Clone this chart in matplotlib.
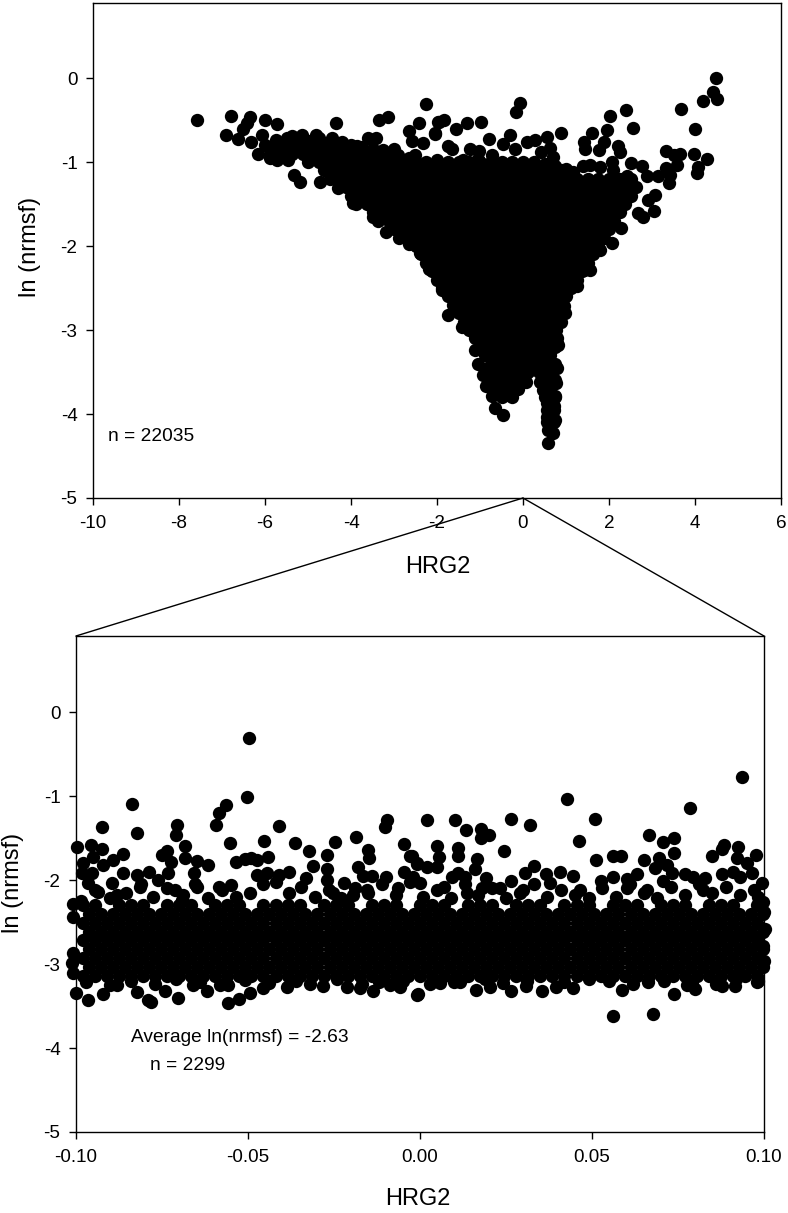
import matplotlib
matplotlib.use("Agg")
import matplotlib.pyplot as plt
from matplotlib.patches import ConnectionPatch

plt.rcParams['font.family'] = ['Liberation Sans', 'DejaVu Sans']
plt.rcParams['axes.unicode_minus'] = False

W, H = 788, 1213

# ---- upper panel: separately readable points ----
upper_edge_x = [-7.57,-6.79,-6.91,-6.62,-6.52,-6.43,-6.35,-5.99,-5.71,-6.33,-6.16,-6.06,-5.88,-5.73,-5.47,-5.38,-5.14,-4.82,-5.33,-5.19,-4.72,-4.30,-3.95,-3.48,-3.19,-2.64,-2.40,-2.19,-4.36,-3.36,-3.15,-3.60,-3.42,-2.25,-2.42,-2.64,-2.59,-2.32,-2.05,-1.97,-4.45,-4.22,-3.87,-3.25,-3.00,-2.51,-2.01,
4.49,4.43,4.50,4.19,3.68,4.01,3.98,4.29,4.08,4.04,3.32,3.64,3.50,3.59,3.32,3.43,3.39,3.15,2.88,2.76,2.51,3.07,2.91,3.05,2.80,2.68,2.29,2.08,1.79,1.56,1.25,2.40,2.02,2.56,1.95,1.61,1.42,1.44,1.89,1.77,2.22,2.26,2.08,0.88,0.55,0.63,0.43,0.28,0.10,0.69,-0.06,-0.17,-0.30,-0.47,-0.19,-0.78,-0.98,-1.30,-1.56,-1.84,-1.95,-2.05,-1.74,-1.64,-1.23,-1.02,-1.04,-1.39,-0.73,1.16,1.56,2.41,
-1.74,-1.89,-1.43,-1.12,-1.04,-0.94,-0.85,-0.65,-0.73,-0.47,-0.34,0.07,-0.15,0.59,0.69,0.57,0.55,0.55,0.47,0.40,0.74,0.74,0.77,0.78,0.82,0.98,0.79,1.42,1.02,0.95,0.76,0.80,0.75,0.55,0.72,0.55,0.72,0.55,0.72,0.55,0.72,
-5.75,-5.5,-5.25,-5,-4.75,-4.5,-4.25,-3.75,-3.5,-2.9,-2.65,0.5,0.75,1.0,1.4,1.8,2.1]
upper_edge_y = [-0.50,-0.45,-0.68,-0.73,-0.61,-0.54,-0.47,-0.50,-0.55,-0.76,-0.91,-0.68,-0.95,-0.98,-0.98,-0.69,-0.68,-0.68,-1.15,-1.24,-1.24,-1.31,-1.49,-1.66,-1.83,-1.98,-2.08,-2.27,-0.53,-0.50,-0.47,-0.71,-0.72,-0.31,-0.53,-0.63,-0.75,-0.77,-0.66,-0.52,-0.71,-0.76,-0.81,-0.86,-0.85,-0.92,-0.98,
0.00,-0.17,-0.25,-0.27,-0.37,-0.61,-0.91,-0.97,-1.06,-1.13,-0.87,-0.90,-0.92,-1.03,-1.07,-1.15,-1.25,-1.17,-1.17,-1.05,-1.01,-1.39,-1.45,-1.58,-1.66,-1.61,-1.78,-1.96,-2.05,-2.29,-2.48,-0.38,-0.45,-0.60,-0.62,-0.65,-0.76,-0.85,-0.76,-0.86,-0.81,-0.88,-1.00,-0.66,-0.70,-0.83,-0.88,-0.74,-0.76,-0.94,-0.30,-0.41,-0.68,-0.78,-0.85,-0.73,-0.52,-0.54,-0.61,-0.50,-0.52,-0.67,-0.81,-0.85,-0.85,-0.87,-0.96,-0.98,-0.92,-1.12,-1.04,-1.17,
-2.82,-2.52,-2.97,-3.24,-3.40,-3.54,-3.67,-3.93,-3.79,-4.01,-3.77,-3.62,-3.67,-4.34,-4.23,-4.19,-4.03,-3.87,-3.71,-3.62,-4.07,-3.79,-3.63,-3.45,-3.18,-2.80,-3.10,-2.29,-2.52,-2.72,-3.00,-3.15,-3.44,-3.95,-3.95,-4.10,-4.10,-3.80,-3.90,-3.60,-3.60,
-0.74,-0.72,-0.74,-0.75,-0.72,-0.76,-0.78,-0.82,-0.84,-0.92,-0.95,-1.02,-1.05,-1.08,-1.05,-1.06,-1.10]

# ---- upper panel: estimated points of the solid cloud, row by row ----
upper_core_y = [-0.80,-0.90,-1.00,-1.10,-1.20,-1.30,-1.40,-1.50,-1.60,-1.70,-1.80,-1.90,-2.00,-2.10,-2.20,-2.30,-2.40,-2.50,-2.60,-2.70,-2.80,-2.90,-3.00,-3.10,-3.20,-3.30,-3.40,-3.50,-3.60,-3.70,-3.80]
upper_core_x = [
[-6,-5.75,-5.5,-5.25,-5,-4.75,-4.5,-4.25,-4],
[-5.875,-5.625,-5.375,-5.125,-4.875,-4.625,-4.375,-4.125,-3.875,-3.625,-3.375,-3.125],
[-5,-4.75,-4.5,-4.25,-4,-3.75,-3.5,-3.25,-3,-2.75,-2.5,-2.25,-2,-1.75,-1.5,-1.25,-1,-.75,-.5,-.25,0,.25],
[-4.625,-4.375,-4.125,-3.875,-3.625,-3.375,-3.125,-2.875,-2.625,-2.375,-2.125,-1.875,-1.625,-1.375,-1.125,-.875,-.625,-.375,-.125,.125,.375,.625,.875],
[-4.5,-4.25,-4,-3.75,-3.5,-3.25,-3,-2.75,-2.5,-2.25,-2,-1.75,-1.5,-1.25,-1,-.75,-.5,-.25,0,.25,.5,.75,1,1.25,1.5,1.75,2,2.25,2.5],
[-4.125,-3.875,-3.625,-3.375,-3.125,-2.875,-2.625,-2.375,-2.125,-1.875,-1.625,-1.375,-1.125,-.875,-.625,-.375,-.125,.125,.375,.625,.875,1.125,1.375,1.625,1.875,2.125,2.375,2.625],
[-4,-3.75,-3.5,-3.25,-3,-2.75,-2.5,-2.25,-2,-1.75,-1.5,-1.25,-1,-.75,-.5,-.25,0,.25,.5,.75,1,1.25,1.5,1.75,2,2.25,2.5],
[-3.875,-3.625,-3.375,-3.125,-2.875,-2.625,-2.375,-2.125,-1.875,-1.625,-1.375,-1.125,-.875,-.625,-.375,-.125,.125,.375,.625,.875,1.125,1.375,1.625,1.875,2.125,2.375],
[-3.5,-3.25,-3,-2.75,-2.5,-2.25,-2,-1.75,-1.5,-1.25,-1,-.75,-.5,-.25,0,.25,.5,.75,1,1.25,1.5,1.75,2,2.25],
[-3.375,-3.125,-2.875,-2.625,-2.375,-2.125,-1.875,-1.625,-1.375,-1.125,-.875,-.625,-.375,-.125,.125,.375,.625,.875,1.125,1.375,1.625,1.875,2.125],
[-3,-2.75,-2.5,-2.25,-2,-1.75,-1.5,-1.25,-1,-.75,-.5,-.25,0,.25,.5,.75,1,1.25,1.5,1.75,2],
[-2.875,-2.625,-2.375,-2.125,-1.875,-1.625,-1.375,-1.125,-.875,-.625,-.375,-.125,.125,.375,.625,.875,1.125,1.375,1.625,1.875],
[-2.5,-2.25,-2,-1.75,-1.5,-1.25,-1,-.75,-.5,-.25,0,.25,.5,.75,1,1.25,1.5,1.75],
[-2.375,-2.125,-1.875,-1.625,-1.375,-1.125,-.875,-.625,-.375,-.125,.125,.375,.625,.875,1.125,1.375,1.625],
[-2.25,-2,-1.75,-1.5,-1.25,-1,-.75,-.5,-.25,0,.25,.5,.75,1,1.25,1.5],
[-2.125,-1.875,-1.625,-1.375,-1.125,-.875,-.625,-.375,-.125,.125,.375,.625,.875,1.125,1.375],
[-2,-1.75,-1.5,-1.25,-1,-.75,-.5,-.25,0,.25,.5,.75,1,1.25],
[-1.875,-1.625,-1.375,-1.125,-.875,-.625,-.375,-.125,.125,.375,.625,.875,1.125],
[-1.75,-1.5,-1.25,-1,-.75,-.5,-.25,0,.25,.5,.75,1],
[-1.625,-1.375,-1.125,-.875,-.625,-.375,-.125,.125,.375,.625,.875],
[-1.5,-1.25,-1,-.75,-.5,-.25,0,.25,.5,.75],
[-1.375,-1.125,-.875,-.625,-.375,-.125,.125,.375,.625,.875],
[-1.25,-1,-.75,-.5,-.25,0,.25,.5,.75],
[-1.125,-.875,-.625,-.375,-.125,.125,.375,.625],
[-1,-.75,-.5,-.25,0,.25,.5,.75],
[-.875,-.625,-.375,-.125,.125,.375,.625],
[-.75,-.5,-.25,0,.25,.5,.75],
[-.875,-.625,-.375,-.125,.125,.375,.625],
[-.75,-.5,-.25,0,.5,.75],
[-.625,-.375,-.125,.625],
[-.5,-.25,.5,.75],
]

# ---- lower panel: separately readable points ----
lower_edge_x = [-.0498,-.0503,-.0564,-.0583,-.0592,-.0837,-.0924,-.0824,-.0706,-.0708,-.0551,-.0454,-.0409,-.0362,-.0324,-.0246,-.0187,-.0097,-.0102,-.0047,-.0150,-.0148,-.0271,-.0998,-.0956,-.0923,-.0950,-.0921,-.0893,-.0862,-.0981,-.0984,-.0954,-.0964,-.0935,-.0894,-.0864,-.0824,-.0788,-.0761,-.0736,-.0751,-.0725,-.0734,-.0683,-.0683,-.0649,-.0615,-.0657,-.0649,-.0535,-.0509,-.0492,-.0475,-.0441,-.0475,-.0446,-.0409,-.0380,-.0330,-.0310,-.0271,-.0271,-.0254,-.0221,-.0194,-.0181,-.0167,-.0140,-.0099,-.0047,-.0029,-.0008,-.0583,-.0550,-.0712,-.0693,-.0814,-.0882,-.0155,-.0063,
-.1001,-.0964,-.0922,-.0822,-.0790,-.0783,-.0740,-.0703,-.0619,-.0559,-.0526,-.0494,-.0455,-.0388,-.0281,-.0213,-.0174,-.0136,-.0087,-.0058,-.0010,-.0659,-.0557,-.0882,
.0937,.0784,.0427,.0510,.0264,.0320,.0020,.0101,.0133,.0176,.0177,.0202,.0463,.0244,.0666,.0705,.0738,.0738,.0512,.0562,.0583,.0651,.0696,.0683,.0717,.0732,.0707,.0850,.0877,.0884,.0925,.0921,.0950,.0977,.0964,.0993,.0049,.0055,.0049,.0019,-.0008,-.0024,.0111,.0111,.0165,.0160,.0111,.0092,.0131,.0192,.0179,.0071,.0233,.0264,.0305,.0330,.0366,.0407,.0446,.0465,.0526,.0562,.0601,.0630,.0601,.0659,.0770,.0795,.0829,.0877,.0909,.0930,.0824,.0984,.0378,.0300,.0136,.0000,-.0019,
-.0007,.0162,.0204,.0264,.0308,.0354,.0394,.0446,.0561,.0676,.0588,.0739,.0664,.0800,.0775,.0879,.0916,.0982,.0058,.0116,.1001,.1003,.0998,.0999,.0998,
-.1008,-.1008,-.1008,-.1013,-.1008]
lower_edge_y = [-.31,-1.01,-1.11,-1.20,-1.35,-1.09,-1.37,-1.44,-1.35,-1.46,-1.56,-1.53,-1.36,-1.56,-1.65,-1.55,-1.49,-1.29,-1.37,-1.57,-1.64,-1.74,-1.70,-1.61,-1.58,-1.63,-1.73,-1.82,-1.76,-1.69,-1.80,-1.92,-1.92,-2.04,-2.14,-2.03,-1.92,-1.94,-1.91,-2.00,-1.65,-1.70,-1.79,-1.92,-1.60,-1.74,-1.77,-1.82,-1.92,-2.08,-1.78,-1.75,-1.74,-1.76,-1.73,-1.94,-1.92,-1.94,-1.91,-1.98,-1.83,-1.87,-2.00,-2.16,-2.04,-2.18,-1.84,-1.95,-1.95,-1.97,-1.90,-1.71,-1.80,-2.08,-2.06,-2.12,-2.24,-2.08,-2.18,-2.12,-2.10,
-3.34,-3.43,-3.36,-3.33,-3.43,-3.45,-3.32,-3.41,-3.32,-3.46,-3.42,-3.35,-3.29,-3.27,-3.26,-3.27,-3.29,-3.32,-3.25,-3.27,-3.37,-3.25,-3.25,-3.25,
-.77,-1.14,-1.03,-1.27,-1.27,-1.35,-1.28,-1.29,-1.41,-1.39,-1.50,-1.46,-1.53,-1.66,-1.46,-1.55,-1.50,-1.68,-1.76,-1.71,-1.71,-1.76,-1.74,-1.86,-1.82,-1.92,-2.01,-1.71,-1.63,-1.58,-1.61,-1.74,-1.80,-1.70,-1.92,-2.04,-1.60,-1.73,-1.84,-1.85,-1.81,-1.72,-1.62,-1.72,-1.75,-1.87,-1.92,-1.96,-1.96,-1.98,-2.10,-2.08,-2.10,-2.01,-1.92,-1.83,-1.93,-1.90,-1.95,-2.12,-2.01,-1.97,-1.99,-1.93,-2.10,-2.12,-1.93,-1.96,-1.98,-1.93,-1.91,-1.96,-2.12,-2.20,-2.04,-2.12,-2.16,-2.04,-1.96,
-3.36,-3.31,-3.27,-3.32,-3.26,-3.32,-3.27,-3.28,-3.62,-3.60,-3.31,-3.36,-3.21,-3.30,-3.25,-3.26,-3.26,-3.20,-3.23,-3.22,-2.97,-2.58,-2.79,-2.38,-2.26,
-2.44,-2.28,-2.87,-2.99,-3.11]

# lumpy upper and lower rims of the lower band
lower_top_rim_x = [-.0985,-.0945,-.090,-.0855,-.081,-.0775,-.0735,-.069,-.0655,-.0615,-.0575,-.0535,-.0495,-.0455,-.042,-.038,-.0345,-.0305,-.0265,-.023,-.019,-.015,-.011,-.007,-.003,.001,.005,.009,.013,.017,.021,.025,.029,.033,.037,.041,.045,.049,.053,.057,.061,.065,.069,.073,.077,.081,.085,.089,.093,.097]
lower_top_rim_y = [-2.25,-2.12,-2.22,-2.15,-2.05,-2.20,-2.10,-2.18,-2.05,-2.22,-2.12,-2.20,-2.15,-2.05,-2.02,-2.15,-2.08,-2.20,-2.12,-2.22,-2.10,-2.15,-2.05,-2.18,-2.02,-2.20,-2.12,-2.22,-2.05,-2.18,-2.10,-2.22,-2.15,-2.05,-2.20,-2.12,-2.18,-2.22,-2.10,-2.20,-2.05,-2.15,-2.22,-2.08,-2.18,-2.05,-2.15,-2.08,-2.18,-2.12]
lower_low_rim_x = [-.097,-.090,-.084,-.077,-.071,-.064,-.058,-.051,-.044,-.036,-.032,-.024,-.017,-.012,-.005,.003,.010,.019,.024,.031,.042,.049,.055,.062,.071,.079,.086,.092,.098]
lower_low_rim_y = [-3.22,-3.25,-3.20,-3.24,-3.18,-3.22,-3.25,-3.19,-3.23,-3.20,-3.24,-3.18,-3.24,-3.22,-3.20,-3.24,-3.22,-3.18,-3.23,-3.20,-3.22,-3.18,-3.20,-3.24,-3.20,-3.22,-3.24,-3.18,-3.22]

# ---- lower panel: estimated points of the solid band, row by row ----
lower_core_y = [-2.30,-2.405,-2.51,-2.615,-2.72,-2.825,-2.93,-3.035,-3.14]
lower_core_x = [
[-.098,-.0945,-.0875,-.084,-.0805,-.0735,-.07,-.0665,-.0595,-.056,-.0525,-.0455,-.042,-.0385,-.035,-.028,-.0245,-.021,-.014,-.0105,-.007,0,.0035,.007,.014,.0175,.021,.028,.0315,.035,.042,.0455,.049,.056,.0595,.063,.07,.0735,.077,.084,.0875,.091,.098],
[-.0963,-.0928,-.0893,-.0858,-.0823,-.0788,-.0753,-.0718,-.0683,-.0648,-.0613,-.0578,-.0543,-.0508,-.0473,-.0438,-.0403,-.0368,-.0333,-.0298,-.0263,-.0228,-.0193,-.0158,-.0123,-.0088,-.0053,-.0018,.0017,.0052,.0087,.0122,.0157,.0192,.0227,.0262,.0297,.0332,.0367,.0402,.0437,.0472,.0507,.0542,.0577,.0612,.0647,.0682,.0717,.0752,.0787,.0822,.0857,.0892,.0927,.0962,.0997],
[-.098,-.0945,-.091,-.0875,-.084,-.0805,-.077,-.0735,-.07,-.0665,-.063,-.0595,-.056,-.0525,-.049,-.0455,-.042,-.0385,-.035,-.0315,-.028,-.0245,-.021,-.0175,-.014,-.0105,-.007,-.0035,0,.0035,.007,.0105,.014,.0175,.021,.0245,.028,.0315,.035,.0385,.042,.0455,.049,.0525,.056,.0595,.063,.0665,.07,.0735,.077,.0805,.084,.0875,.091,.0945,.098],
[-.0963,-.0928,-.0893,-.0858,-.0823,-.0788,-.0753,-.0718,-.0683,-.0648,-.0613,-.0578,-.0543,-.0508,-.0473,-.0438,-.0403,-.0368,-.0333,-.0298,-.0263,-.0228,-.0193,-.0158,-.0123,-.0088,-.0053,-.0018,.0017,.0052,.0087,.0122,.0157,.0192,.0227,.0262,.0297,.0332,.0367,.0402,.0437,.0472,.0507,.0542,.0577,.0612,.0647,.0682,.0717,.0752,.0787,.0822,.0857,.0892,.0927,.0962,.0997],
[-.098,-.0945,-.091,-.0875,-.084,-.0805,-.077,-.0735,-.07,-.0665,-.063,-.0595,-.056,-.0525,-.049,-.0455,-.042,-.0385,-.035,-.0315,-.028,-.0245,-.021,-.0175,-.014,-.0105,-.007,-.0035,0,.0035,.007,.0105,.014,.0175,.021,.0245,.028,.0315,.035,.0385,.042,.0455,.049,.0525,.056,.0595,.063,.0665,.07,.0735,.077,.0805,.084,.0875,.091,.0945,.098],
[-.0963,-.0928,-.0893,-.0858,-.0823,-.0788,-.0753,-.0718,-.0683,-.0648,-.0613,-.0578,-.0543,-.0508,-.0473,-.0438,-.0403,-.0368,-.0333,-.0298,-.0263,-.0228,-.0193,-.0158,-.0123,-.0088,-.0053,-.0018,.0017,.0052,.0087,.0122,.0157,.0192,.0227,.0262,.0297,.0332,.0367,.0402,.0437,.0472,.0507,.0542,.0577,.0612,.0647,.0682,.0717,.0752,.0787,.0822,.0857,.0892,.0927,.0962,.0997],
[-.098,-.0945,-.091,-.0875,-.084,-.0805,-.077,-.0735,-.07,-.0665,-.063,-.0595,-.056,-.0525,-.049,-.0455,-.042,-.0385,-.035,-.0315,-.028,-.0245,-.021,-.0175,-.014,-.0105,-.007,-.0035,0,.0035,.007,.0105,.014,.0175,.021,.0245,.028,.0315,.035,.0385,.042,.0455,.049,.0525,.056,.0595,.063,.0665,.07,.0735,.077,.0805,.084,.0875,.091,.0945,.098],
[-.0963,-.0928,-.0893,-.0858,-.0823,-.0788,-.0753,-.0718,-.0683,-.0648,-.0613,-.0578,-.0543,-.0508,-.0473,-.0438,-.0403,-.0368,-.0333,-.0298,-.0263,-.0228,-.0193,-.0158,-.0123,-.0088,-.0053,-.0018,.0017,.0052,.0087,.0122,.0157,.0192,.0227,.0262,.0297,.0332,.0367,.0402,.0437,.0472,.0507,.0542,.0577,.0612,.0647,.0682,.0717,.0752,.0787,.0822,.0857,.0892,.0927,.0962,.0997],
[-.098,-.0945,-.091,-.0875,-.084,-.0805,-.077,-.0735,-.07,-.0665,-.063,-.0595,-.056,-.0525,-.049,-.0455,-.042,-.0385,-.035,-.0315,-.028,-.0245,-.021,-.0175,-.014,-.0105,-.007,-.0035,0,.0035,.007,.0105,.014,.0175,.021,.0245,.028,.0315,.035,.0385,.042,.0455,.049,.0525,.056,.0595,.063,.0665,.07,.0735,.077,.0805,.084,.0875,.091,.0945,.098],
]

upper_xticks = [-10,-8,-6,-4,-2,0,2,4,6]
lower_xticks = [-0.10,-0.05,0.00,0.05,0.10]
lower_xticklabels = ['-0.10','-0.05','0.00','0.05','0.10']
yticks = [-5,-4,-3,-2,-1,0]


def flat(levels, rows):
    xs, ys = [], []
    for lev, row in zip(levels, rows):
        xs += row
        ys += [lev] * len(row)
    return xs, ys


def make_axes(l, r, t, b):
    return fig.add_axes([l / W, 1 - b / H, (r - l) / W, (b - t) / H])


def style(ax, xlim, ylim, xt):
    ax.set_xlim(*xlim)
    ax.set_ylim(*ylim)
    ax.set_xticks(xt)
    ax.set_yticks(yticks)
    ax.tick_params(direction='out', length=5.2, width=1.0, labelsize=13.6)
    ax.tick_params(axis='x', pad=7)
    ax.tick_params(axis='y', pad=6)
    for s in ax.spines.values():
        s.set_linewidth(1.0)


def dots(ax, x, y):
    ax.scatter(x, y, s=92, c='black', linewidths=0, clip_on=False, zorder=3)


fig = plt.figure(figsize=(W / 100, H / 100), dpi=100, facecolor='white')

ax1 = make_axes(93, 781, 3, 498)
style(ax1, (-10, 6), (-5, 0.893), upper_xticks)
cx, cy = flat(upper_core_y, upper_core_x)
dots(ax1, cx, cy)
dots(ax1, upper_edge_x, upper_edge_y)
ax1.text(-9.65, -4.27, 'n = 22035', fontsize=13.8, va='center', ha='left')

ax2 = make_axes(76, 764, 636, 1132)
style(ax2, (-0.10, 0.10), (-5, 0.905), lower_xticks)
ax2.set_xticklabels(lower_xticklabels)
cx, cy = flat(lower_core_y, lower_core_x)
dots(ax2, cx, cy)
dots(ax2, lower_top_rim_x, lower_top_rim_y)
dots(ax2, lower_low_rim_x, lower_low_rim_y)
dots(ax2, lower_edge_x, lower_edge_y)
ax2.text(-0.084, -3.88, 'Average ln(nrmsf) = -2.63', fontsize=13.8, va='center', ha='left')
ax2.text(-0.0785, -4.21, 'n = 2299', fontsize=13.8, va='center', ha='left')

fig.text(438 / W, 1 - 567 / H, 'HRG2', fontsize=17, ha='center', va='center')
fig.text(30 / W, 1 - 247 / H, 'ln (nrmsf)', fontsize=17, rotation=90, ha='center', va='center')
fig.text(418 / W, 1 - 1199 / H, 'HRG2', fontsize=17, ha='center', va='center')
fig.text(13 / W, 1 - 883 / H, 'ln (nrmsf)', fontsize=17, rotation=90, ha='center', va='center')

for xb, yb in [(-0.10, 0.905), (0.10, 0.905)]:
    fig.add_artist(ConnectionPatch(xyA=(0, -5), coordsA=ax1.transData,
                                   xyB=(xb, yb), coordsB=ax2.transData,
                                   color='black', linewidth=1.0))

fig.savefig('out.png', dpi=100, facecolor='white')
